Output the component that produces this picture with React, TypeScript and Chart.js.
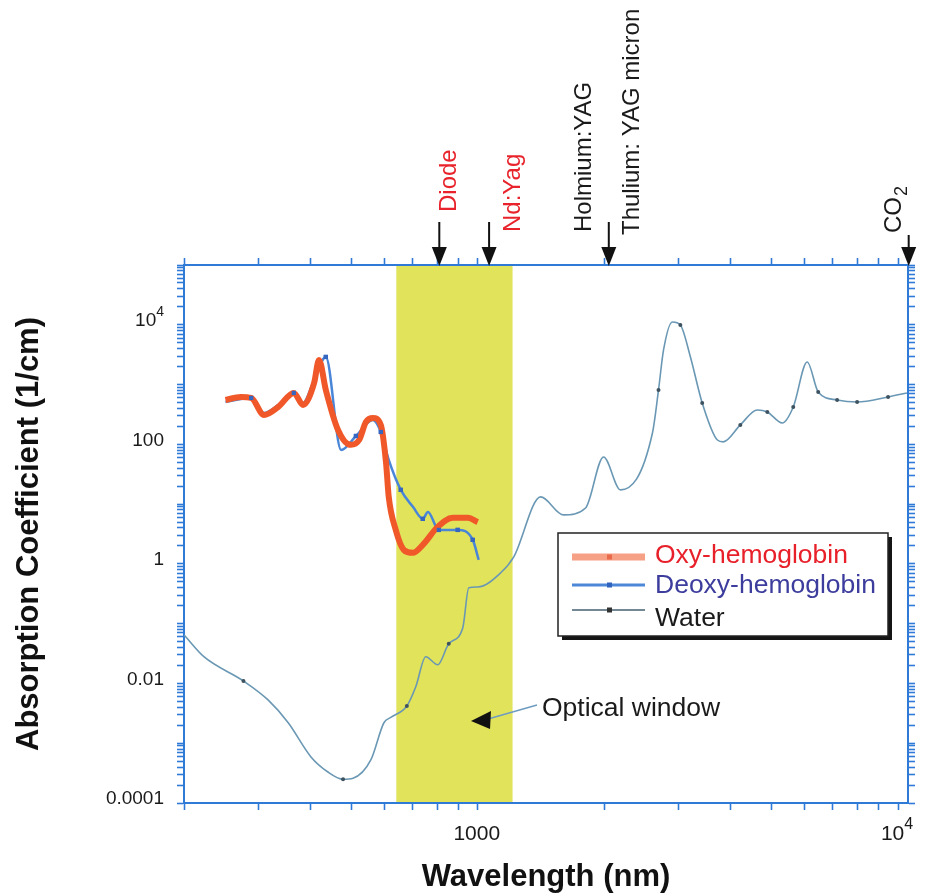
import React, { useEffect, useRef } from 'react';
import { Chart, registerables } from 'chart.js';

Chart.register(...registerables);

const FONT = '"Liberation Sans", Arial, Helvetica, sans-serif';

// Oxy-hemoglobin absorption (wavelength nm, 1/cm)
const oxyNm = [251, 273, 289, 310, 335, 365, 384, 408, 419, 435, 465, 499, 522, 542, 563, 588, 605, 614, 638, 667, 701, 740, 803, 872, 947, 1000];
const oxyAbs = [552, 621, 597, 310, 422, 724, 456, 1063, 2577, 813, 174, 98, 118, 237, 276, 211, 49, 13.2, 3.7, 1.71, 1.53, 2.08, 4.16, 5.9, 5.9, 5.0];

// Deoxy-hemoglobin absorption
const deoxyNm = [251, 289, 310, 335, 365, 384, 408, 435, 473, 513, 563, 588, 614, 656, 701, 740, 761, 808, 896, 973, 1005];
const deoxyAbs = [512, 597, 335, 456, 724, 492, 1194, 2897, 80.5, 138, 256, 161, 55, 17.3, 9.0, 5.66, 7.4, 3.7, 3.7, 2.52, 1.17];
const deoxyMarkedNm = [289, 365, 435, 513, 588, 656, 740, 808, 896, 973];

// Water absorption
const waterNm = [200, 223, 277, 317, 354, 401, 440, 478, 505, 557, 598, 621, 678, 712, 752, 803, 853, 921, 952, 1000, 1134, 1218, 1411, 1600, 1805, 1992, 2186, 2604, 2692, 2767, 2904, 3034, 3206, 3420, 3717, 3838, 4214, 4624, 4885, 5303, 5632, 6079, 6457, 7161, 7990, 9467, 10500];
const waterAbs = [0.065, 0.028, 0.011, 0.0053, 0.0022, 0.00059, 0.00033, 0.00025, 0.00026, 0.00053, 0.0022, 0.0027, 0.0042, 0.0088, 0.028, 0.0205, 0.046, 0.085, 0.40, 0.41, 0.71, 1.31, 13.2, 6.6, 8.6, 61.5, 17.3, 155, 813, 3790, 11140, 9930, 2900, 492, 118, 110, 211, 376, 348, 228, 422, 2388, 751, 552, 511, 620, 724];
const waterMarkedNm = [277, 478, 678, 853, 2692, 3034, 3420, 4214, 4885, 5632, 6457, 7161, 7990, 9467];

// Optical window band (nm)
const opticalWindowNm = [640, 1210];

// Laser lines marked above the plot
const laserNames = ['Diode', 'Nd:Yag', 'Holmium:YAG', 'Thulium: YAG micron', 'CO_2'];
const laserNm = [810, 1064, 2050, 2050, 10600];
const laserRed = [true, true, false, false, false];
const arrowNm = [810, 1064, 2050, 10600];

// Axes
const xMin = 200;
const xMax = 10560;
const yMin = 1e-4;
const yMax = 1e5;
const xLabelValues = [1000, 10000];
const xLabelTexts = ['1000', '10^4'];
const yLabelValues = [1e4, 100, 1, 0.01, 1e-4];
const yLabelTexts = ['10^4', '100', '1', '0.01', '0.0001'];

function decadeTicks(lo: number, hi: number, from = 1): number[] {
  const out: number[] = [];
  for (let e = lo; e < hi; e++) {
    for (let m = e === lo ? from : 1; m <= 9; m++) out.push(m * Math.pow(10, e));
  }
  out.push(Math.pow(10, hi));
  return out;
}
const xTickValues = decadeTicks(2, 4, 2);
const yTickValues = decadeTicks(-4, 5);

const AXIS_BLUE = '#2f7ad6';
const TEXT = '#1a1a1a';

function drawPowLabel(ctx: CanvasRenderingContext2D, text: string, x: number, y: number, size: number, align: 'right' | 'center') {
  const [base, sup] = text.split('^');
  const supSize = Math.round(size * 0.75);
  ctx.font = `${size}px ${FONT}`;
  const wb = ctx.measureText(base).width;
  let ws = 0;
  if (sup) {
    ctx.font = `${supSize}px ${FONT}`;
    ws = ctx.measureText(sup).width;
  }
  const total = wb + ws;
  const start = align === 'right' ? x - total : x - total / 2;
  ctx.textAlign = 'left';
  ctx.textBaseline = 'middle';
  ctx.fillStyle = TEXT;
  ctx.font = `${size}px ${FONT}`;
  ctx.fillText(base, start, y);
  if (sup) {
    ctx.font = `${supSize}px ${FONT}`;
    ctx.fillText(sup, start + wb, y - size * 0.45);
  }
}

const decorPlugin = {
  id: 'decor',
  beforeDatasetsDraw(chart: any) {
    const { ctx, chartArea: a, scales } = chart;
    const x0 = scales.x.getPixelForValue(opticalWindowNm[0]);
    const x1 = scales.x.getPixelForValue(opticalWindowNm[1]);
    ctx.save();
    ctx.fillStyle = '#e1e35b';
    ctx.fillRect(x0, a.top + 1, x1 - x0, a.bottom - a.top - 2);
    ctx.restore();
  },
  afterDatasetsDraw(chart: any) {
    const { ctx, scales } = chart;
    ctx.save();

    // deoxy markers sit above the oxy line
    chart.getDatasetMeta(1).data.forEach((el: any) => el.draw(ctx, chart.chartArea));

    // tick labels
    yLabelValues.forEach((v, i) => {
      drawPowLabel(ctx, yLabelTexts[i], 164, scales.y.getPixelForValue(v) - 4, 19, 'right');
    });
    xLabelValues.forEach((v, i) => {
      drawPowLabel(ctx, xLabelTexts[i], scales.x.getPixelForValue(v) - 1, 834, 21, 'center');
    });

    // laser arrows on the top axis
    ctx.strokeStyle = '#111';
    ctx.fillStyle = '#111';
    ctx.lineWidth = 2;
    arrowNm.forEach((nm) => {
      const x = scales.x.getPixelForValue(nm);
      const top = nm > 5000 ? 235 : 222;
      ctx.beginPath();
      ctx.moveTo(x, top);
      ctx.lineTo(x, 250);
      ctx.stroke();
      ctx.beginPath();
      ctx.moveTo(x - 7.5, 247);
      ctx.lineTo(x + 7.5, 247);
      ctx.lineTo(x, 266);
      ctx.closePath();
      ctx.fill();
    });

    // rotated laser names
    const labelDx = [17, 31, -18, 30, -8];
    const labelY = [212, 232, 232, 235, 233];
    laserNames.forEach((name, i) => {
      const x = scales.x.getPixelForValue(laserNm[i]) + labelDx[i];
      ctx.save();
      ctx.translate(x, labelY[i]);
      ctx.rotate(-Math.PI / 2);
      ctx.fillStyle = laserRed[i] ? '#e8232b' : TEXT;
      ctx.textAlign = 'left';
      ctx.textBaseline = 'alphabetic';
      ctx.font = `24px ${FONT}`;
      const [main, sub] = name.split('_');
      ctx.fillText(main, 0, 0);
      if (sub) {
        const w = ctx.measureText(main).width;
        ctx.font = `18px ${FONT}`;
        ctx.fillText(sub, w + 1, 6);
      }
      ctx.restore();
    });

    // legend box
    const lx = 558, ly = 533, lw = 330, lh = 103;
    ctx.fillStyle = '#151515';
    ctx.fillRect(lx + 4, ly + 4, lw, lh);
    ctx.fillStyle = '#ffffff';
    ctx.fillRect(lx, ly, lw, lh);
    ctx.strokeStyle = '#222';
    ctx.lineWidth = 1.5;
    ctx.strokeRect(lx, ly, lw, lh);

    const rowLineY = [557, 585, 610];
    const rowTextY = [563, 593, 626];
    const sampleColors = ['#f6a085', '#4d88d8', '#44606f'];
    const sampleWidths = [7, 3, 1.6];
    const markColors = ['#e86a4a', '#2f63bd', '#333'];
    const textColors = ['#e8202a', '#3d3d9e', TEXT];
    chart.data.datasets.forEach((ds: any, i: number) => {
      ctx.strokeStyle = sampleColors[i];
      ctx.lineWidth = sampleWidths[i];
      ctx.beginPath();
      ctx.moveTo(572, rowLineY[i]);
      ctx.lineTo(645, rowLineY[i]);
      ctx.stroke();
      ctx.fillStyle = markColors[i];
      ctx.fillRect(607, rowLineY[i] - 2.5, 5, 5);
      ctx.fillStyle = textColors[i];
      ctx.font = `26.5px ${FONT}`;
      ctx.textAlign = 'left';
      ctx.textBaseline = 'alphabetic';
      ctx.fillText(ds.label, 655, rowTextY[i]);
    });

    // optical window annotation
    ctx.strokeStyle = '#6d9cc0';
    ctx.lineWidth = 1.4;
    ctx.beginPath();
    ctx.moveTo(537, 705);
    ctx.lineTo(488, 719);
    ctx.stroke();
    ctx.fillStyle = '#111';
    ctx.beginPath();
    ctx.moveTo(471, 721);
    ctx.lineTo(491, 711);
    ctx.lineTo(490, 729);
    ctx.closePath();
    ctx.fill();
    ctx.fillStyle = TEXT;
    ctx.font = `26.5px ${FONT}`;
    ctx.fillText('Optical window', 542, 716);

    ctx.restore();
  },
};

function logAxis(position: string, min: number, max: number, ticks: number[], size: number, title?: any) {
  const horizontal = position === 'top' || position === 'bottom';
  return {
    type: 'logarithmic',
    position,
    min,
    max,
    afterBuildTicks: (s: any) => {
      s.ticks = ticks.map((v) => ({ value: v }));
    },
    afterFit: (s: any) => {
      if (horizontal) s.height = size;
      else s.width = size;
    },
    ticks: { display: false },
    grid: {
      drawOnChartArea: false,
      drawTicks: true,
      tickLength: 7,
      color: AXIS_BLUE,
      tickColor: AXIS_BLUE,
      tickWidth: 1.6,
    },
    border: { display: true, color: AXIS_BLUE, width: 2 },
    title: title || { display: false },
  };
}

export default function App() {
  const canvasRef = useRef<HTMLCanvasElement | null>(null);

  useEffect(() => {
    if (!canvasRef.current) return;
    const chart = new Chart(canvasRef.current, {
      type: 'line',
      data: {
        datasets: [
          {
            label: 'Oxy-hemoglobin',
            data: oxyNm.map((x, i) => ({ x, y: oxyAbs[i] })),
            borderColor: '#f0582a',
            borderWidth: 6,
            pointRadius: 0,
            cubicInterpolationMode: 'monotone',
            fill: false,
          },
          {
            label: 'Deoxy-hemoglobin',
            data: deoxyNm.map((x, i) => ({ x, y: deoxyAbs[i] })),
            borderColor: '#4a86d8',
            borderWidth: 2.5,
            pointStyle: 'rect',
            pointRadius: deoxyNm.map((nm) => (deoxyMarkedNm.includes(nm) ? 3 : 0)),
            pointBackgroundColor: '#3566c0',
            pointBorderColor: '#3566c0',
            pointBorderWidth: 0,
            cubicInterpolationMode: 'monotone',
            fill: false,
          },
          {
            label: 'Water',
            data: waterNm.map((x, i) => ({ x, y: waterAbs[i] })),
            borderColor: '#6a98b4',
            borderWidth: 1.6,
            pointRadius: waterNm.map((nm) => (waterMarkedNm.includes(nm) ? 2 : 0)),
            pointBackgroundColor: '#3f5260',
            pointBorderWidth: 0,
            cubicInterpolationMode: 'monotone',
            fill: false,
          },
        ],
      },
      options: {
        responsive: false,
        animation: false,
        devicePixelRatio: 1,
        events: [],
        layout: { padding: 0 },
        plugins: { legend: { display: false }, tooltip: { enabled: false } },
        scales: {
          x: logAxis('bottom', xMin, xMax, xTickValues, 93, {
            display: true,
            text: 'Wavelength (nm)',
            color: '#111',
            font: { family: FONT, size: 31, weight: 'bold' },
            padding: { top: 0, bottom: 0 },
          }),
          x2: logAxis('top', xMin, xMax, xTickValues, 265),
          y: logAxis('left', yMin, yMax, yTickValues, 184, {
            display: true,
            text: 'Absorption Coefficient (1/cm)',
            color: '#111',
            font: { family: FONT, size: 31, weight: 'bold' },
            padding: { top: 11, bottom: 0 },
          }),
          y2: logAxis('right', yMin, yMax, yTickValues, 17),
        },
      } as any,
      plugins: [decorPlugin],
    } as any);
    return () => chart.destroy();
  }, []);

  return (
    <div style={{ position: 'absolute', left: 0, top: 0, width: 925, height: 896, background: '#fff' }}>
      <canvas ref={canvasRef} width={925} height={896} style={{ display: 'block' }} />
    </div>
  );
}
